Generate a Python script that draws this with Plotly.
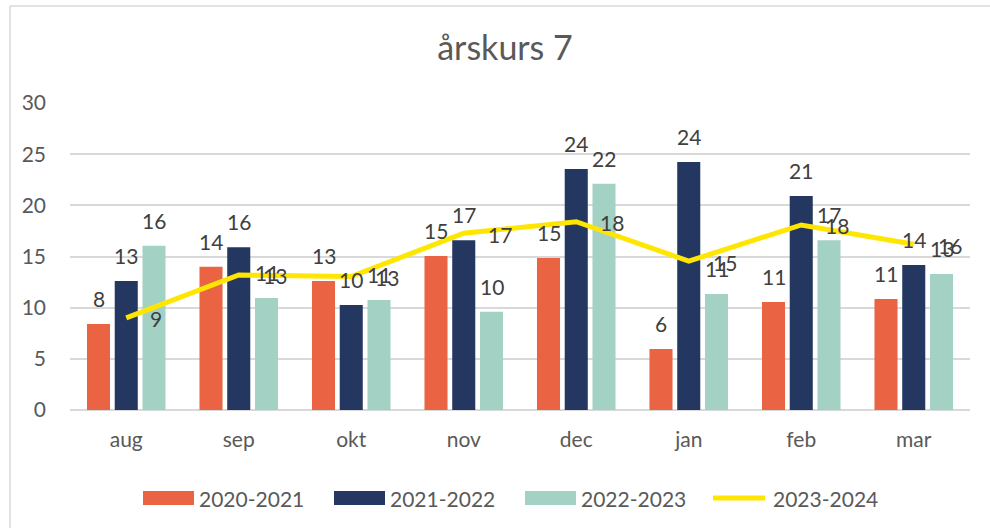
import plotly.graph_objects as go

months = ["aug", "sep", "okt", "nov", "dec", "jan", "feb", "mar"]
s2020 = [8.4, 14.0, 12.6, 15.05, 14.86, 5.96, 10.56, 10.85]
s2021 = [12.6, 15.9, 10.26, 16.6, 23.56, 24.24, 20.9, 14.17]
s2022 = [16.06, 10.95, 10.75, 9.6, 22.1, 11.34, 16.6, 13.3]
s2023 = [9.0, 13.2, 13.05, 17.27, 18.4, 14.55, 18.08, 16.2]
series_names = ["2020-2021", "2021-2022", "2022-2023", "2023-2024"]
y_ticks = [0, 5, 10, 15, 20, 25, 30]

colors = ["#EA6444", "#243760", "#A3D1C3", "#FFE600"]
FONT = "Lato, 'Open Sans', sans-serif"
LABEL_COLOR = "#404040"
TICK_COLOR = "#595959"
FS = 21

W, H = 990, 528
L, T, R, B = 70, 103, 20, 118
pw, ph = W - L - R, H - T - B


def px(x):
    return (x - L) / pw


def py(y):
    return (H - B - y) / ph


fig = go.Figure()
for name, vals, col in zip(series_names[:3], [s2020, s2021, s2022], colors[:3]):
    fig.add_trace(go.Bar(x=months, y=vals, name=name, marker_color=col,
                         marker_line_width=0, hoverinfo="y"))
fig.add_trace(go.Scatter(x=months, y=s2023, name=series_names[3], mode="lines",
                         line=dict(color=colors[3], width=5)))

annotations = []
slot = pw / len(months) * 0.74 / 3
for i, vals in enumerate([s2020, s2021, s2022]):
    off = (i - 1) * slot
    for m, v in zip(months, vals):
        annotations.append(dict(x=m, y=v, xref="x", yref="y", text=f"{v:.0f}",
                                showarrow=False, xanchor="center", yanchor="bottom",
                                xshift=off, yshift=11,
                                font=dict(family=FONT, size=FS, color=LABEL_COLOR)))
for m, v in zip(months, s2023):
    annotations.append(dict(x=m, y=v, xref="x", yref="y", text=f"{v:.0f}",
                            showarrow=False, xanchor="left", yanchor="middle",
                            xshift=22, yshift=-1,
                            font=dict(family=FONT, size=FS, color=LABEL_COLOR)))

shapes = [
    dict(type="line", xref="paper", yref="paper", x0=px(10), x1=px(10), y0=py(6), y1=py(528),
         line=dict(color="#D9D9D9", width=1.5)),
    dict(type="line", xref="paper", yref="paper", x0=px(10), x1=px(990), y0=py(6), y1=py(6),
         line=dict(color="#D9D9D9", width=1.5)),
]

# custom legend (wide swatches like the reference)
leg_y = 498
swatch_x = [143, 334, 525, 711]
for k, (name, col) in enumerate(zip(series_names, colors)):
    x0 = swatch_x[k]
    if k < 3:
        shapes.append(dict(type="rect", xref="paper", yref="paper",
                           x0=px(x0), x1=px(x0 + 51), y0=py(leg_y - 7), y1=py(leg_y + 7),
                           fillcolor=col, line=dict(width=0)))
        tx = x0 + 54
    else:
        shapes.append(dict(type="line", xref="paper", yref="paper",
                           x0=px(x0 + 2), x1=px(x0 + 54), y0=py(leg_y), y1=py(leg_y),
                           line=dict(color=col, width=5)))
        tx = x0 + 60
    annotations.append(dict(x=px(tx), y=py(leg_y), xref="paper", yref="paper", text=name,
                            showarrow=False, xanchor="left", yanchor="middle",
                            font=dict(family=FONT, size=FS, color=TICK_COLOR)))

fig.update_layout(
    width=W, height=H,
    margin=dict(l=L, r=R, t=T, b=B),
    paper_bgcolor="white", plot_bgcolor="white",
    title=dict(text="årskurs 7", x=505 / W, xref="container", xanchor="center",
               y=1 - 48 / H, yref="container", yanchor="middle",
               font=dict(family=FONT, size=34, color=TICK_COLOR)),
    barmode="group", bargap=0.26, bargroupgap=0.17,
    font=dict(family=FONT, size=FS, color=TICK_COLOR),
    xaxis=dict(showgrid=False, showline=False, ticks="", ticklabelstandoff=15,
               tickfont=dict(family=FONT, size=FS, color=TICK_COLOR)),
    yaxis=dict(range=[0, 30], tickvals=y_ticks, showgrid=True, gridcolor="#D9D9D9",
               gridwidth=1.5, zeroline=True, zerolinecolor="#D9D9D9", zerolinewidth=1.5,
               showline=False, ticks="", ticklabelstandoff=23,
               tickfont=dict(family=FONT, size=FS, color=TICK_COLOR)),
    showlegend=False,
    annotations=annotations,
    shapes=shapes,
)

fig.write_html("out.html", config={"displayModeBar": False},
               post_script="document.body.style.margin='0';document.body.style.overflow='hidden';")
